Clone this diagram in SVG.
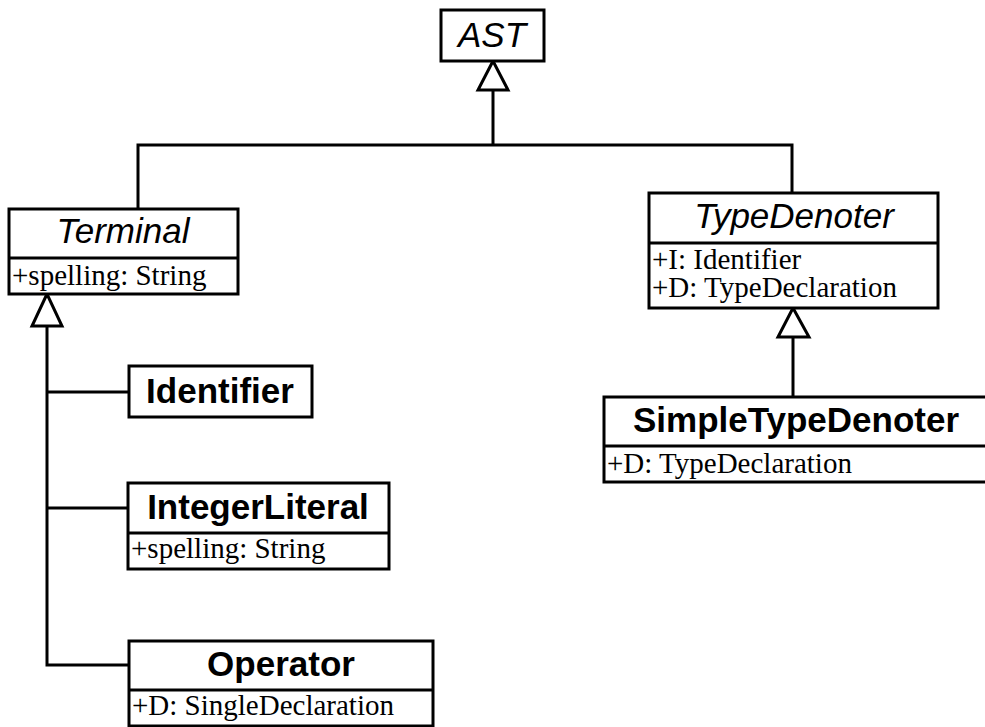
<svg xmlns="http://www.w3.org/2000/svg" width="985" height="727" viewBox="0 0 985 727">
<style>
rect, line, polyline, polygon { stroke: #000; stroke-width: 3; }
rect { fill: #fff; }
polyline { fill: none; }
polygon { fill: #fff; }
.name { font-family: "Liberation Sans", Arial, sans-serif; font-size: 35px; text-anchor: middle; fill: #000; }
.abs { font-style: italic; }
.bold { font-weight: bold; }
.attr { font-family: "Liberation Serif", "Times New Roman", serif; font-size: 29px; fill: #000; }
</style>
<g id="connectors">
  <polyline points="138,209 138,145 792,145 792,193"/>
  <line x1="493" y1="145" x2="493" y2="90"/>
  <polygon points="493,61 478,90 508,90"/>
  <polyline points="47,326 47,665 129,665"/>
  <line x1="47" y1="392" x2="129" y2="392"/>
  <line x1="47" y1="508" x2="128" y2="508"/>
  <polygon points="47,294 32,326 62,326"/>
  <line x1="793" y1="337" x2="793" y2="397"/>
  <polygon points="793,308 778,337 809,337"/>
</g>
<g id="AST">
  <rect x="441" y="10" width="103" height="51"/>
  <text class="name abs" x="492" y="47">AST</text>
</g>
<g id="Terminal">
  <rect x="9" y="209" width="229" height="85"/>
  <line x1="9" y1="258" x2="238" y2="258"/>
  <text class="name abs" x="123" y="243">Terminal</text>
  <text class="attr" x="12" y="285">+spelling: String</text>
</g>
<g id="TypeDenoter">
  <rect x="649" y="193" width="289" height="115"/>
  <line x1="649" y1="243" x2="938" y2="243"/>
  <text class="name abs" x="794" y="228">TypeDenoter</text>
  <text class="attr" x="652" y="269">+I: Identifier</text>
  <text class="attr" x="652" y="297">+D: TypeDeclaration</text>
</g>
<g id="Identifier">
  <rect x="129" y="366" width="183" height="51"/>
  <text class="name bold" x="220" y="403">Identifier</text>
</g>
<g id="IntegerLiteral">
  <rect x="128" y="483" width="261" height="86"/>
  <line x1="128" y1="533" x2="389" y2="533"/>
  <text class="name bold" x="258" y="519">IntegerLiteral</text>
  <text class="attr" x="131" y="558">+spelling: String</text>
</g>
<g id="Operator">
  <rect x="129" y="641" width="304" height="85"/>
  <line x1="129" y1="690" x2="433" y2="690"/>
  <text class="name bold" x="281" y="676">Operator</text>
  <text class="attr" x="132" y="715">+D: SingleDeclaration</text>
</g>
<g id="SimpleTypeDenoter">
  <rect x="604" y="397" width="386" height="85"/>
  <line x1="604" y1="446" x2="990" y2="446"/>
  <text class="name bold" x="796" y="432">SimpleTypeDenoter</text>
  <text class="attr" x="607" y="473">+D: TypeDeclaration</text>
</g>
</svg>
